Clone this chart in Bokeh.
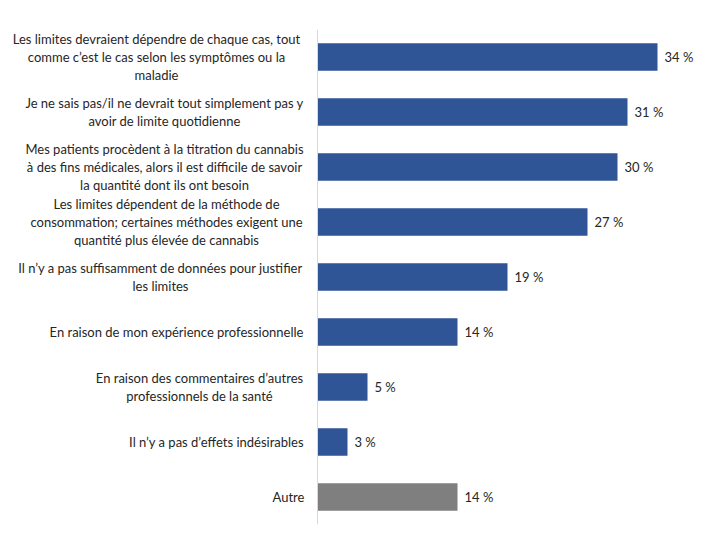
from bokeh.plotting import figure
from bokeh.models import ColumnDataSource, FactorRange, Range1d, Span
from bokeh.core.properties import value
from bokeh.embed import file_html
from bokeh.resources import INLINE

# ---- data ----
categories = [
    "Les limites devraient dépendre de chaque cas, tout\ncomme c’est le cas selon les symptômes ou la\nmaladie",
    "Je ne sais pas/il ne devrait tout simplement pas y\navoir de limite quotidienne",
    "Mes patients procèdent à la titration du cannabis\nà des fins médicales, alors il est difficile de savoir\nla quantité dont ils ont besoin",
    "Les limites dépendent de la méthode de\nconsommation; certaines méthodes exigent une\nquantité plus élevée de cannabis",
    "Il n’y a pas suffisamment de données pour justifier\nles limites",
    "En raison de mon expérience professionnelle",
    "En raison des commentaires d’autres\nprofessionnels de la santé",
    "Il n’y a pas d’effets indésirables",
    "Autre",
]
percent = [34, 31, 30, 27, 19, 14, 5, 3, 14]

# ---- layout / style (not data) ----
BLUE = "#2F5597"
GREY = "#7F7F7F"
TXT = "#262626"
FONT = "Lato"
W, H = 712, 532
AXIS_PX = 317          # frame-left to value-axis distance in px
label_center_px = [156, 164, 164, 166, 160, 176, 199, 216, 288]  # x of label centres

keys = [str(i) for i in range(len(categories))]
colors = [GREY if c == "Autre" else BLUE for c in categories]

src = ColumnDataSource(dict(
    key=keys,
    cat=categories,
    pct=percent,
    color=colors,
    vlabel=[f"{v} %" for v in percent],
    lab_off=[c - AXIS_PX for c in label_center_px],
    zero=[0] * len(keys),
))

p = figure(
    width=W, height=H,
    y_range=FactorRange(factors=list(reversed(keys))),
    x_range=Range1d(-AXIS_PX / 10.0, (W - AXIS_PX) / 10.0),
    x_axis_type=None, y_axis_type=None,
    output_backend="svg", toolbar_location=None,
    min_border_left=0, min_border_right=0, min_border_top=29,
    min_border_bottom=H - 29 - 495,
)
p.outline_line_color = None
p.xgrid.visible = False
p.ygrid.visible = False

p.hbar(y="key", left=0, right="pct", height=0.5, fill_color="color",
       line_color=None, source=src)

p.add_layout(Span(location=0, dimension="height", line_color="#D9D9D9", line_width=1))

p.text(x="pct", y="key", text="vlabel", x_offset=7, source=src,
       text_align="left", text_baseline="middle",
       text_font=value(FONT), text_font_size="13px", text_color=TXT)

p.text(x="zero", y="key", text="cat", x_offset="lab_off", source=src,
       text_align="center", text_baseline="middle", text_line_height=1.13,
       text_font=value(FONT), text_font_size="13px", text_color=TXT)

open("out.html", "w").write(file_html(p, INLINE))
